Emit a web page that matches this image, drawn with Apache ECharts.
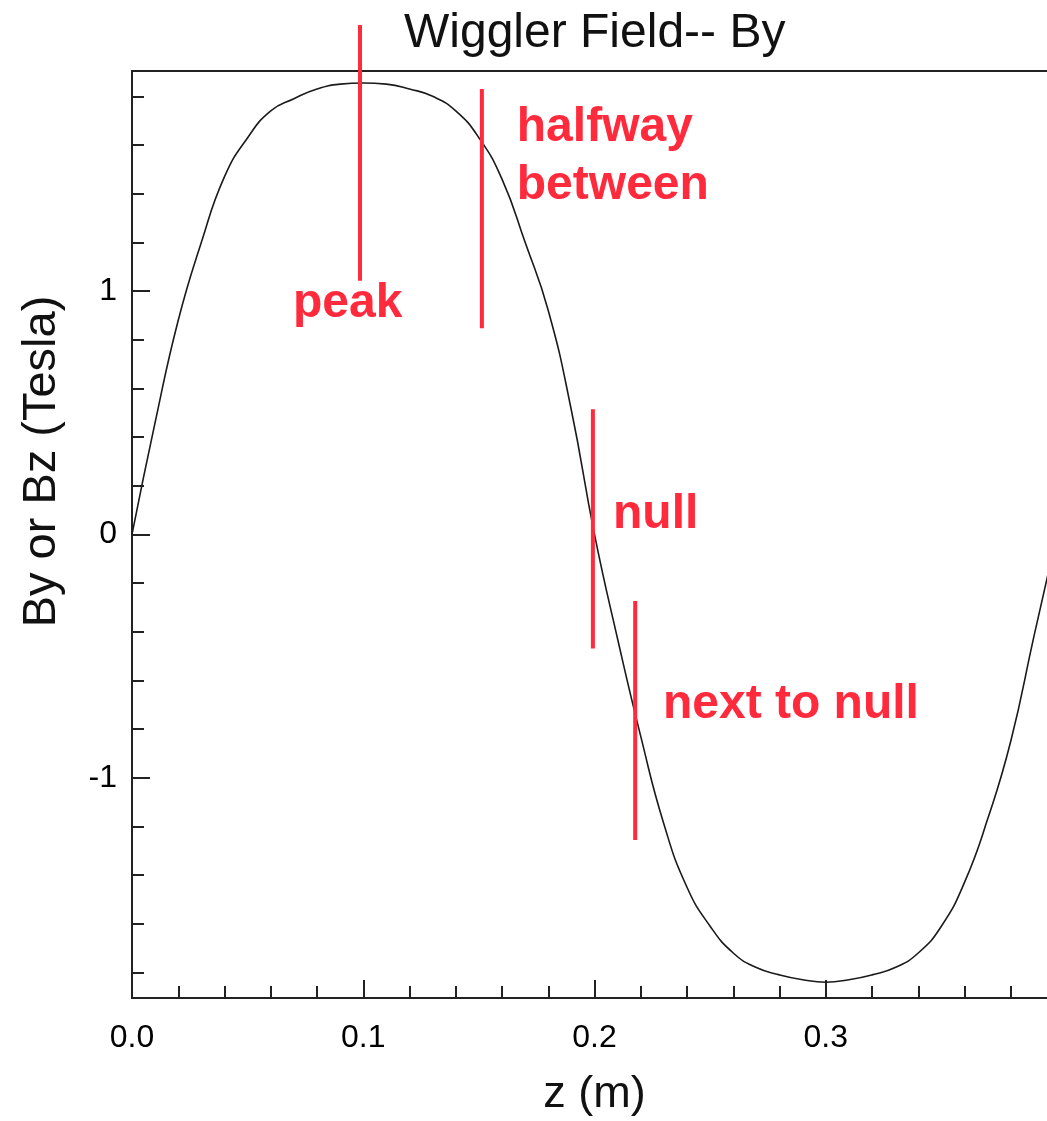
<!DOCTYPE html>
<html>
<head>
<meta charset="utf-8">
<script src="https://cdn.jsdelivr.net/npm/echarts@6/dist/echarts.min.js"></script>
<style>
html,body{margin:0;padding:0;background:#fff;overflow:hidden;}
#chart{width:1047px;height:1121px;}
</style>
</head>
<body>
<div id="chart"></div>
<script>
// ---- data ----
var zValues = [0.00,0.01,0.02,0.03,0.04,0.05,0.06,0.07,0.08,0.09,
               0.10,0.11,0.12,0.13,0.14,0.15,0.16,0.17,0.18,0.19,
               0.20,0.21,0.22,0.23,0.24,0.25,0.26,0.27,0.28,0.29,
               0.30,0.31,0.32,0.33,0.34,0.35,0.36,0.37,0.38,0.39,0.40];
var byValues = [0.00,0.46,0.88,1.20,1.47,1.63,1.74,1.79,1.83,1.85,
                1.855,1.85,1.83,1.80,1.74,1.63,1.46,1.20,0.92,0.51,
                0.00,-0.43,-0.83,-1.19,-1.45,-1.61,-1.72,-1.78,-1.81,-1.83,
                -1.84,-1.83,-1.81,-1.78,-1.72,-1.61,-1.43,-1.17,-0.85,-0.42,0.00];

var xTickLabels = [0.0, 0.1, 0.2, 0.3];
var yMajorTicks = [-1, 0, 1];
var yMinorTicks = [-1.8,-1.6,-1.4,-1.2,-1.0,-0.8,-0.6,-0.4,-0.2,0,0.2,0.4,0.6,0.8,1.0,1.2,1.4,1.6,1.8];

// red annotation marks (data coordinates)
var markZ      = [0.0986, 0.1513, 0.1993, 0.2176];
var markTop    = [2.093, 1.830, 0.514, -0.274];
var markBottom = [1.042, 0.847, -0.469, -1.256];

var annoText = ['peak', 'halfway\nbetween', 'null', 'next to null'];
var annoZ    = [0.0696, 0.1664, 0.208, 0.2296];
var annoB    = [0.946, 1.55, 0.079, -0.70];

var titleText = 'Wiggler Field-- By';
var xName = 'z (m)';
var yName = 'By or Bz (Tesla)';

// ---- chart ----
var RED = '#ff2a3c';
var FONT = '"Liberation Sans", Arial, Helvetica, sans-serif';
var chart = echarts.init(document.getElementById('chart'), null, {renderer: 'canvas'});

var curve = zValues.map(function (z, i) { return [z, byValues[i]]; });

var series = [{
  type: 'line',
  data: curve,
  xAxisIndex: 0, yAxisIndex: 0,
  showSymbol: false,
  smooth: 0.5,
  lineStyle: {color: '#1a1a1a', width: 1.6},
  silent: true,
  z: 3
}];

markZ.forEach(function (z, i) {
  series.push({
    type: 'line',
    data: [[z, markTop[i]], [z, markBottom[i]]],
    xAxisIndex: 0, yAxisIndex: 0,
    showSymbol: false,
    clip: false,
    lineStyle: {color: RED, width: 4, opacity: 1},
    silent: true,
    z: 4
  });
});

series.push({
  type: 'scatter',
  xAxisIndex: 0, yAxisIndex: 0,
  symbolSize: 0,
  clip: false,
  silent: true,
  itemStyle: {opacity: 1},
  data: annoText.map(function (t, i) { return {name: t, value: [annoZ[i], annoB[i]]}; }),
  label: {
    show: true,
    position: 'inside',
    align: 'left',
    verticalAlign: 'middle',
    opacity: 1,
    formatter: function (p) { return p.name; },
    color: RED,
    fontFamily: FONT,
    fontWeight: 'bold',
    fontSize: 48,
    lineHeight: 58
  },
  z: 5
});

var axisLineStyle = {color: '#222', width: 2};

chart.setOption({
  animation: false,
  backgroundColor: '#fff',
  title: {
    text: titleText,
    left: 404,
    top: 10,
    padding: 0,
    textStyle: {fontFamily: FONT, fontWeight: 'normal', fontSize: 48, color: '#111'}
  },
  grid: {
    left: 132, top: 71, width: 925, height: 927,
    outerBoundsMode: 'none',
    containLabel: false,
    show: true, borderColor: '#222', borderWidth: 2, backgroundColor: 'transparent'
  },
  xAxis: [{
    type: 'value',
    min: 0, max: 0.4, interval: 0.1,
    name: xName,
    nameLocation: 'middle',
    nameGap: 74,
    nameTextStyle: {fontFamily: FONT, fontSize: 45, color: '#111'},
    axisLine: {show: true, onZero: false, lineStyle: axisLineStyle},
    axisTick: {show: true, inside: true, length: 18, lineStyle: axisLineStyle},
    minorTick: {show: true, splitNumber: 5, length: 12, lineStyle: {color: '#222', width: 2}},
    splitLine: {show: false},
    axisLabel: {
      show: true, margin: 24, showMaxLabel: false,
      fontFamily: FONT, fontSize: 32, color: '#000',
      formatter: function (v) {
        for (var k = 0; k < xTickLabels.length; k++) {
          if (Math.abs(xTickLabels[k] - v) < 1e-9) return xTickLabels[k].toFixed(1);
        }
        return '';
      }
    }
  }],
  yAxis: [{
    type: 'value',
    min: -1.905, max: 1.904,
    name: yName,
    nameLocation: 'middle',
    nameGap: 66,
    nameTextStyle: {fontFamily: FONT, fontSize: 47, color: '#111', padding: [0, 0, 0, 146]},
    axisLine: {show: true, onZero: false, lineStyle: axisLineStyle},
    axisTick: {show: true, inside: true, length: 18, customValues: yMajorTicks, lineStyle: axisLineStyle},
    axisLabel: {show: true, margin: 15, customValues: yMajorTicks, fontFamily: FONT, fontSize: 32, color: '#000',
      formatter: function (v) { return String(Math.round(v)); }},
    splitLine: {show: false}
  }, {
    type: 'value',
    position: 'left',
    min: -1.905, max: 1.904,
    axisLine: {show: false},
    axisTick: {show: true, inside: true, length: 12, customValues: yMinorTicks, lineStyle: axisLineStyle},
    axisLabel: {show: false},
    splitLine: {show: false}
  }],
  series: series
});
</script>
</body>
</html>
